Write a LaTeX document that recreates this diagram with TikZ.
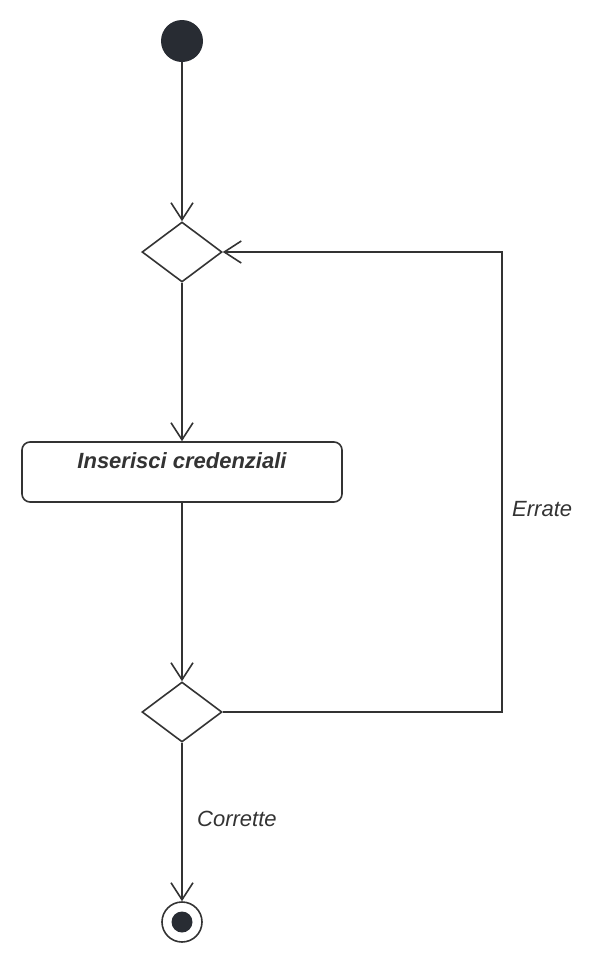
\documentclass[tikz,border=0pt]{standalone}
\usepackage{fontspec}
\setmainfont{Liberation Sans}
\usetikzlibrary{arrows.meta,shapes.geometric}
\definecolor{ln}{HTML}{333333}
\definecolor{startfill}{HTML}{282C33}
\tikzset{
  conn/.style={draw=ln, line width=1.6pt, -{Straight Barb[length=17pt,width=22pt,line width=1.6pt]}},
  decision/.style={diamond, draw=ln, line width=1.6pt, minimum width=80pt, minimum height=60pt, inner sep=0pt, aspect=1.333, fill=white},
  action/.style={rectangle, rounded corners=8pt, draw=ln, line width=1.6pt, minimum width=320pt, minimum height=60pt, fill=white},
  lbl/.style={font=\fontsize{22}{26}\selectfont\itshape, text=ln, anchor=base west, inner sep=0pt},
}
\begin{document}
\begin{tikzpicture}[x=1pt,y=-1pt]
\useasboundingbox (0,0) rectangle (601,962);
\node[circle, fill=startfill, minimum size=42pt, inner sep=0pt] (start) at (182,41) {};
\node[decision] (d1) at (182,252) {};
\node[action] (act) at (182,472) {};
\node[font=\fontsize{22}{26}\selectfont\bfseries\itshape, text=ln, anchor=base, inner sep=0pt] (acttext) at (182,468) {Inserisci credenziali};
\node[decision] (d2) at (182,712) {};
\node[circle, draw=ln, line width=1.6pt, minimum size=40pt, inner sep=0pt] (endo) at (182,922) {};
\node[circle, fill=startfill, minimum size=21pt, inner sep=0pt] (endi) at (182,922) {};
\coordinate (c1) at (502,712);
\coordinate (c2) at (502,252);
\draw[conn] (start) -- (d1.north);
\draw[conn] (d1.south) -- (act.north);
\draw[conn] (act.south) -- (d2.north);
\draw[conn] (d2.south) -- (endo.north);
\draw[conn] (d2.east) -- (c1) -- (c2) -- (d1.east);
\node[lbl] (err) at (512,516) {Errate};
\node[lbl] (cor) at (197,826) {Corrette};
\end{tikzpicture}
\end{document}
